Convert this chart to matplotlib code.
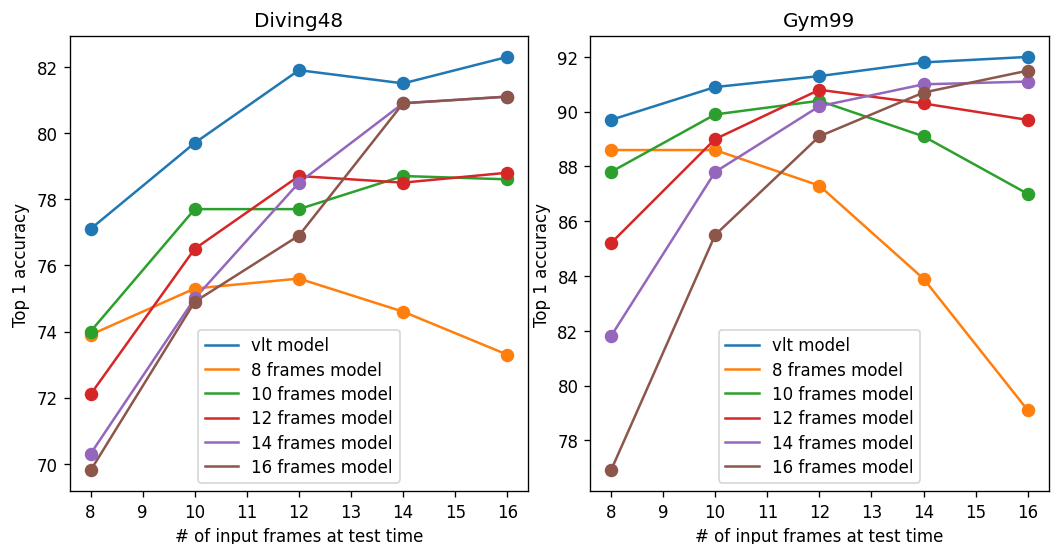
import numpy as np
import matplotlib.pyplot as plt

frames = [8, 10, 12, 14, 16]
labels = ["vlt model", "8 frames model", "10 frames model",
          "12 frames model", "14 frames model", "16 frames model"]

# Diving48 top-1 accuracy
diving_vlt = [77.1, 79.7, 81.9, 81.5, 82.3]
diving_8 = [73.9, 75.3, 75.6, 74.6, 73.3]
diving_10 = [74.0, 77.7, 77.7, 78.7, 78.6]
diving_12 = [72.1, 76.5, 78.7, 78.5, 78.8]
diving_14 = [70.3, 75.0, 78.5, 80.9, 81.1]
diving_16 = [69.8, 74.9, 76.9, 80.9, 81.1]

# Gym99 top-1 accuracy
gym_vlt = [89.7, 90.9, 91.3, 91.8, 92.0]
gym_8 = [88.6, 88.6, 87.3, 83.9, 79.1]
gym_10 = [87.8, 89.9, 90.4, 89.1, 87.0]
gym_12 = [85.2, 89.0, 90.8, 90.3, 89.7]
gym_14 = [81.8, 87.8, 90.2, 91.0, 91.1]
gym_16 = [76.9, 85.5, 89.1, 90.7, 91.5]

diving = [diving_vlt, diving_8, diving_10, diving_12, diving_14, diving_16]
gym = [gym_vlt, gym_8, gym_10, gym_12, gym_14, gym_16]

fig, axes = plt.subplots(1, 2, figsize=(8.8, 4.54), dpi=120)

for ax, title, data in zip(axes, ["Diving48", "Gym99"], [diving, gym]):
    for i, (vals, lab) in enumerate(zip(data, labels)):
        c = "C%d" % i
        ax.plot(frames, vals, '-', color=c, label=lab)
        ax.scatter(frames, vals, color=c, s=50, zorder=3)
    ax.set_title(title)
    ax.set_xlabel("# of input frames at test time")
    ax.set_ylabel("Top 1 accuracy")
    ax.set_xticks(range(8, 17))
    ax.legend(loc="lower center", labelspacing=0.38)

plt.subplots_adjust(left=0.066, right=0.993, top=0.932, bottom=0.097, wspace=0.135)
plt.savefig("out.png")
